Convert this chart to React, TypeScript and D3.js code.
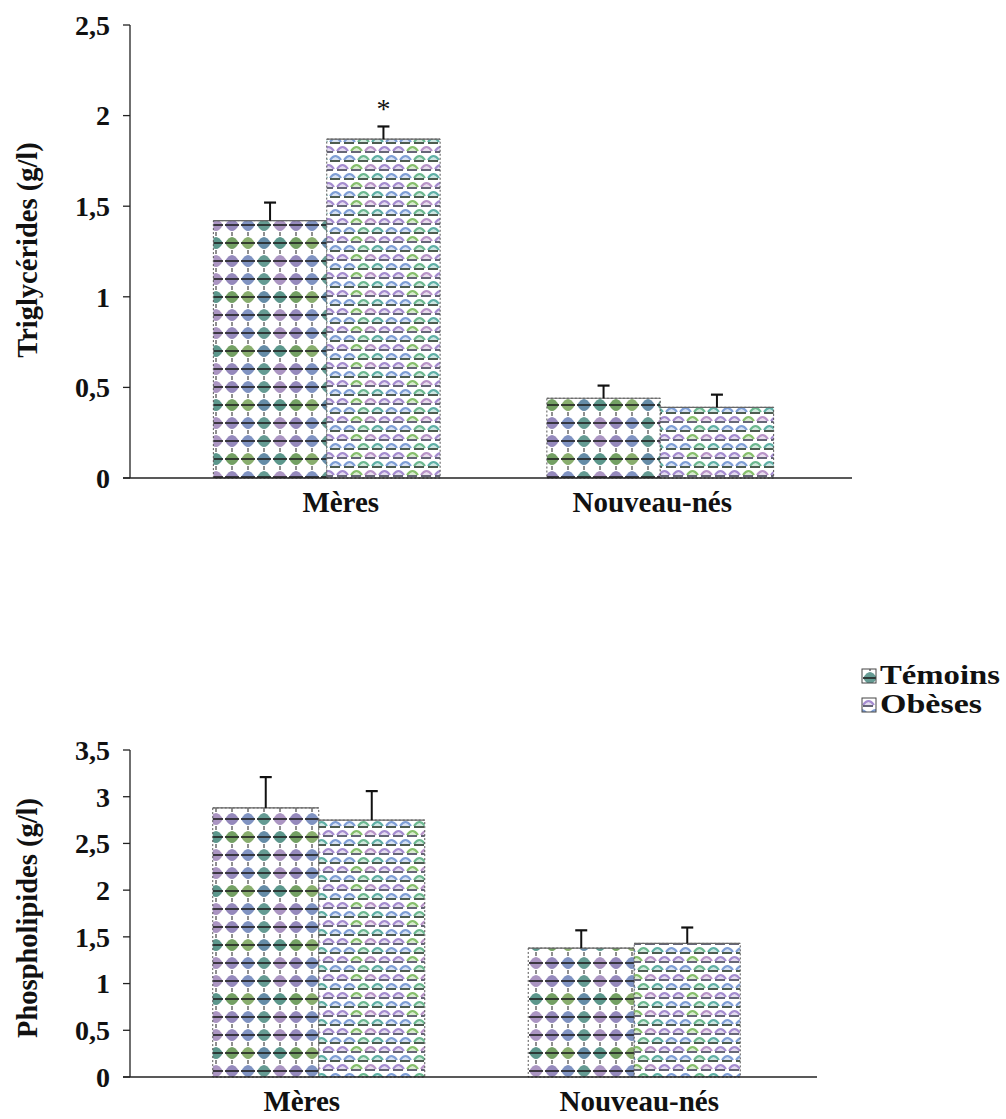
import React from "react";
import * as d3 from "d3";

// Groups and series
const groups = ["Mères", "Nouveau-nés"];
const series = ["Témoins", "Obèses"];

// Triglycérides (g/l): means and SEM
const tgTemoins = [1.42, 0.44];
const tgTemoinsErr = [0.1, 0.07];
const tgObeses = [1.87, 0.39];
const tgObesesErr = [0.07, 0.07];
const tgTicks = [0, 0.5, 1, 1.5, 2, 2.5];
// significance marks per group, per series
const tgMarks = [["", "*"], ["", ""]];

// Phospholipides (g/l): means and SEM
const plTemoins = [2.88, 1.38];
const plTemoinsErr = [0.33, 0.19];
const plObeses = [2.75, 1.43];
const plObesesErr = [0.31, 0.17];
const plTicks = [0, 0.5, 1, 1.5, 2, 2.5, 3, 3.5];
const plMarks = [["", ""], ["", ""]];

const fmt = (v: number) => String(v).replace(".", ",");
const FONT = "Liberation Serif";

const dotColors = ["#4a8a80", "#6a80b8", "#5a9048", "#9c82b8", "#4a7898", "#75a055", "#8375b0", "#3f8578"];
const scaleColors = ["#a58cd0", "#5fb0a6", "#86bf6c", "#7f9fd6", "#b894c8", "#6cb890"];

function Patterns() {
  // Témoins: grid of colored lens-shaped dots crossed by a dark dash
  const cw = 16, ch = 18, cols = 4, rows = 3;
  const dots: JSX.Element[] = [];
  for (let r = 0; r < rows; r++) {
    for (let c = 0; c < cols; c++) {
      const cx = c * cw + cw / 2;
      const cy = r * ch + ch / 2;
      const col = dotColors[(r * cols + c * 3) % dotColors.length];
      dots.push(
        <g key={`d${r}-${c}`}>
          <path d={`M${cx - 7},${cy} Q${cx},${cy - 12} ${cx + 7},${cy} Q${cx},${cy + 12} ${cx - 7},${cy} Z`} fill={col} opacity={0.85} />
          <line x1={cx - 7} x2={cx + 7} y1={cy} y2={cy} stroke="#1f1f1f" strokeWidth={1.6} />
          <line x1={cx} x2={cx} y1={cy - 9} y2={cy - 7} stroke="#444" strokeWidth={1.2} />
          <line x1={cx} x2={cx} y1={cy + 7} y2={cy + 9} stroke="#444" strokeWidth={1.2} />
        </g>
      );
    }
  }
  // Obèses: offset rows of small pastel scales with dark dashes
  const sw = 14, sh = 9, scols = 4, srows = 4;
  const scales: JSX.Element[] = [];
  for (let r = 0; r < srows; r++) {
    for (let c = 0; c < scols; c++) {
      const off = r % 2 === 0 ? 0 : sw / 2;
      const x = c * sw + off;
      const y = r * sh + 1;
      const col = scaleColors[(r * 3 + c * 2) % scaleColors.length];
      [x, x - scols * sw].forEach((xx, k) =>
        scales.push(
          <g key={`s${r}-${c}-${k}`}>
            <path d={`M${xx + 1},${y + 6} Q${xx + 6.5},${y - 2} ${xx + 12},${y + 6}`} fill={col} fillOpacity={0.3} stroke={col} strokeWidth={2.2} />
            <line x1={xx + 1} x2={xx + 11} y1={y + 7} y2={y + 7} stroke={r % 2 ? "#2e3e30" : "#4a4a5e"} strokeWidth={1.7} />
          </g>
        )
      );
    }
  }
  return (
    <defs>
      <pattern id="pat-temoins" patternUnits="userSpaceOnUse" width={cw * cols} height={ch * rows}>
        <rect width={cw * cols} height={ch * rows} fill="#fff" />
        {dots}
      </pattern>
      <pattern id="pat-obeses" patternUnits="userSpaceOnUse" width={sw * scols} height={sh * srows}>
        <rect width={sw * scols} height={sh * srows} fill="#fff" />
        {scales}
      </pattern>
    </defs>
  );
}

type PanelProps = {
  temoins: number[];
  temoinsErr: number[];
  obeses: number[];
  obesesErr: number[];
  ticks: number[];
  marks: string[][];
  title: string;
  yTop: number;
  yBottom: number;
  xRange: [number, number];
  padInner: number;
  axisEnd: number;
  labelDx: number[];
  titleY: number;
};

function Panel(p: PanelProps) {
  const axisX = 130;
  const yMax = p.ticks[p.ticks.length - 1];
  const y = d3.scaleLinear().domain([0, yMax]).range([p.yBottom, p.yTop]);
  const x0 = d3.scaleBand().domain(groups).range(p.xRange).paddingInner(p.padInner).paddingOuter(p.padInner / 2);
  const x1 = d3.scaleBand().domain(series).range([0, x0.bandwidth()]);
  const vals = [p.temoins, p.obeses];
  const errs = [p.temoinsErr, p.obesesErr];
  const fills = ["url(#pat-temoins)", "url(#pat-obeses)"];

  return (
    <g>
      {/* bars */}
      {groups.map((g, gi) =>
        series.map((s, si) => {
          const v = vals[si][gi];
          const e = errs[si][gi];
          const bx = (x0(g) as number) + (x1(s) as number);
          const bw = x1.bandwidth();
          const cx = bx + bw / 2;
          return (
            <g key={`${g}-${s}`}>
              <rect x={bx} y={y(v)} width={bw} height={y(0) - y(v)} fill={fills[si]} stroke="#555" strokeWidth={1} strokeDasharray="2,2" />
              <line x1={bx} x2={bx + bw} y1={y(v)} y2={y(v)} stroke="#666" strokeWidth={1.2} />
              <line x1={cx} x2={cx} y1={y(v)} y2={y(v + e)} stroke="#111" strokeWidth={2} />
              <line x1={cx - 6} x2={cx + 6} y1={y(v + e)} y2={y(v + e)} stroke="#111" strokeWidth={2.2} />
              {p.marks[gi][si] && (
                <text x={cx} y={y(v + e) - 8} textAnchor="middle" fontFamily={FONT} fontSize={28} fill="#111">
                  {p.marks[gi][si]}
                </text>
              )}
            </g>
          );
        })
      )}
      {/* y axis */}
      <line x1={axisX} x2={axisX} y1={y(yMax)} y2={y(0)} stroke="#222" strokeWidth={1.3} />
      {p.ticks.map((t) => (
        <g key={t}>
          <line x1={axisX - 7} x2={axisX} y1={y(t)} y2={y(t)} stroke="#222" strokeWidth={1.3} />
          <text x={axisX - 20} y={y(t)} dy="0.35em" textAnchor="end" fontFamily={FONT} fontWeight="bold" fontSize={28} fill="#111">
            {fmt(t)}
          </text>
        </g>
      ))}
      {/* x axis */}
      <line x1={axisX - 7} x2={p.axisEnd} y1={y(0)} y2={y(0)} stroke="#222" strokeWidth={1.5} />
      {groups.map((g, gi) => (
        <text key={g} x={(x0(g) as number) + x0.bandwidth() / 2 + p.labelDx[gi]} y={y(0) + 34} textAnchor="middle" fontFamily={FONT} fontWeight="bold" fontSize={29} fill="#111">
          {g}
        </text>
      ))}
      {/* y title */}
      <text transform={`translate(37,${p.titleY}) rotate(-90)`} textAnchor="middle" fontFamily={FONT} fontWeight="bold" fontSize={28.5} fill="#111">
        {p.title}
      </text>
    </g>
  );
}

export default function App() {
  return (
    <svg width={1006} height={1119} style={{ position: "absolute", left: 0, top: 0, background: "#fff" }}>
      <Patterns />
      <rect width={1006} height={1119} fill="#fff" />
      <Panel
        temoins={tgTemoins}
        temoinsErr={tgTemoinsErr}
        obeses={tgObeses}
        obesesErr={tgObesesErr}
        ticks={tgTicks}
        marks={tgMarks}
        title="Triglycérides (g/l)"
        yTop={25}
        yBottom={478}
        xRange={[160, 827]}
        padInner={0.32}
        axisEnd={852}
        labelDx={[14, -8]}
        titleY={250}
      />
      <Panel
        temoins={plTemoins}
        temoinsErr={plTemoinsErr}
        obeses={plObeses}
        obesesErr={plObesesErr}
        ticks={plTicks}
        marks={plMarks}
        title="Phospholipides (g/l)"
        yTop={750}
        yBottom={1077}
        xRange={[161, 792]}
        padInner={0.328}
        axisEnd={817}
        labelDx={[-17, 5]}
        titleY={918}
      />
      {/* legend */}
      {series.map((s, i) => (
        <g key={s} transform={`translate(862,${669 + i * 29})`}>
          <rect x={0} y={0} width={14} height={14} fill={i === 0 ? "url(#pat-temoins)" : "url(#pat-obeses)"} stroke="#444" strokeWidth={1} />
          <text x={18} y={15} fontFamily={FONT} fontWeight="bold" fontSize={27} fill="#111" textLength={i === 0 ? 120 : 102} lengthAdjust="spacingAndGlyphs">
            {s}
          </text>
        </g>
      ))}
    </svg>
  );
}
